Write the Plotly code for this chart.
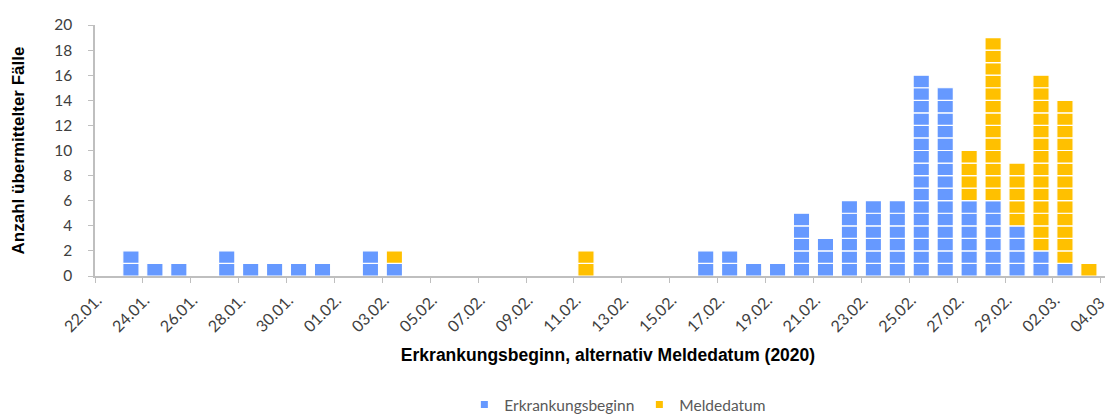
import plotly.graph_objects as go

dates = ["22.01.", "23.01.", "24.01.", "25.01.", "26.01.", "27.01.", "28.01.", "29.01.",
         "30.01.", "31.01.", "01.02.", "02.02.", "03.02.", "04.02.", "05.02.", "06.02.",
         "07.02.", "08.02.", "09.02.", "10.02.", "11.02.", "12.02.", "13.02.", "14.02.",
         "15.02.", "16.02.", "17.02.", "18.02.", "19.02.", "20.02.", "21.02.", "22.02.",
         "23.02.", "24.02.", "25.02.", "26.02.", "27.02.", "28.02.", "29.02.", "01.03.",
         "02.03.", "03.03.", "04.03."]

erkrankungsbeginn = [0, 2, 1, 1, 0, 2, 1, 1, 1, 1, 0, 2, 1, 0, 0, 0,
                     0, 0, 0, 0, 0, 0, 0, 0, 0, 2, 2, 1, 1, 5, 3, 6,
                     6, 6, 16, 15, 6, 6, 4, 2, 1, 0, 0]

meldedatum = [0, 0, 0, 0, 0, 0, 0, 0, 0, 0, 0, 0, 1, 0, 0, 0,
              0, 0, 0, 0, 2, 0, 0, 0, 0, 0, 0, 0, 0, 0, 0, 0,
              0, 0, 0, 0, 4, 13, 5, 14, 13, 1, 0]

tick_labels = dates[::2]

series = [
    ("Erkrankungsbeginn", erkrankungsbeginn, "#6699ff"),
    ("Meldedatum", meldedatum, "#ffc000"),
]

fig = go.Figure()

# one block per reported case, stacked on top of each other
offset = [0] * len(dates)
for name, values, color in series:
    xs, bases = [], []
    for i, v in enumerate(values):
        for k in range(v):
            xs.append(dates[i])
            bases.append(offset[i] + k)
        offset[i] += v
    fig.add_trace(go.Bar(
        x=xs, y=[1] * len(xs), base=bases, name=name,
        marker=dict(color=color, line=dict(color="white", width=1.2)),
        showlegend=False, hoverinfo="skip",
    ))
    fig.add_trace(go.Scatter(
        x=[None], y=[None], mode="markers", name=name,
        marker=dict(symbol="square", size=7, color=color),
    ))

axis_col = "#bfbfbf"
tick_font = dict(family="Lato", size=15.5, color="#404040")
xtick_font = dict(family="Lato", size=16, color="#404040")
title_font = dict(family="Liberation Sans", size=17.5, color="black")

fig.update_layout(
    width=1113, height=414,
    margin=dict(l=87, r=0, t=17, b=140),
    paper_bgcolor="white", plot_bgcolor="white",
    barmode="overlay", bargap=0.32,
    xaxis=dict(
        type="category", categoryorder="array", categoryarray=dates,
        range=[-0.5, 42.34],
        tickmode="array", tickvals=tick_labels, ticktext=tick_labels,
        tickson="boundaries", tickangle=-45,
        ticks="outside", ticklen=5, tickcolor=axis_col,
        showline=True, linecolor=axis_col, linewidth=1.5,
        showgrid=False, tickfont=xtick_font,
        ticklabelstandoff=7, ticklabelshift=-10,
        title=dict(text="<b>Erkrankungsbeginn, alternativ Meldedatum (2020)</b>",
                   font=title_font, standoff=14),
    ),
    yaxis=dict(
        range=[0, 20], dtick=2,
        ticks="outside", ticklen=5, tickcolor=axis_col,
        showline=True, linecolor=axis_col, linewidth=1.5,
        showgrid=False, zeroline=False, tickfont=tick_font,
        ticklabelstandoff=13,
        title=dict(text="<b>Anzahl übermittelter Fälle</b>",
                   font=dict(family="Liberation Sans", size=17, color="black"),
                   standoff=25),
    ),
    legend=dict(
        orientation="h", x=0.36, xanchor="left", y=-0.514, yanchor="middle",
        font=dict(family="Lato", size=15.5, color="#595959"),
    ),
)

fig.write_html("out.html")
